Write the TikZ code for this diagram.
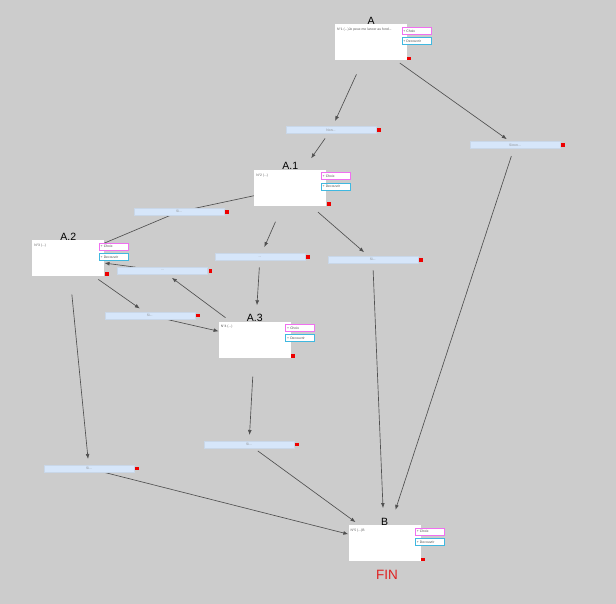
\documentclass[tikz,border=0pt]{standalone}
\usepackage{fontspec}
\setmainfont{Liberation Sans}
\usetikzlibrary{arrows.meta,backgrounds,calc}
\definecolor{bg}{HTML}{CCCCCC}
\definecolor{barfill}{HTML}{D6E6FA}
\definecolor{pinkb}{HTML}{F070F0}
\definecolor{cyanb}{HTML}{40B8E0}
\definecolor{edgec}{HTML}{505050}
\definecolor{redsq}{HTML}{EE0000}
\definecolor{finred}{HTML}{E02020}
\tikzset{
  card/.style={fill=white, minimum width=72pt, minimum height=36pt, inner sep=0pt},
  cardtitle/.style={anchor=base, inner sep=0pt, font=\fontsize{10.5}{12}\selectfont, text=black},
  cardtext/.style={anchor=west, inner sep=0pt, font=\fontsize{3.4}{4}\selectfont, text=black!65},
  btn/.style={draw, line width=0.7pt, fill=white, minimum width=29pt, minimum height=7pt,
    inner sep=0pt, inner xsep=1.5pt, text width=26pt, align=left, anchor=north west,
    font=\fontsize{3.4}{4}\selectfont, text=black!70},
  choixbtn/.style={btn, draw=pinkb},
  decbtn/.style={btn, draw=cyanb},
  bar/.style={fill=barfill, draw=barfill!85!gray, line width=0.3pt, minimum width=90pt,
    minimum height=6.7pt, inner sep=0pt, font=\fontsize{3.4}{4}\selectfont, text=black!45},
  redmark/.style={fill=redsq, minimum size=3.8pt, inner sep=0pt},
  conn/.style={draw=edgec, line width=0.65pt, -{Latex[length=5pt,width=3.8pt]}},
  hiddenconn/.style={draw=edgec, line width=0.65pt},
}
\newcommand\cardnode[4]{%
  \node[card] (#1) at (#2) {};
  \node[cardtitle] (#1t) at (#1.north) {#3};
  \node[cardtext] (#1x) at ($(#1.north west)+(2,5.7)$) {#4};
  \node[choixbtn] (#1c) at ($(#1.north east)+(-5.7,2.7)$) {+ Choix};
  \node[decbtn] (#1d) at ($(#1.north east)+(-5.7,13)$) {+ Decouvrir};
  \node[redmark, anchor=south west] (#1r) at (#1.south east) {};
}
\newcommand\barnode[3]{%
  \node[bar] (#1) at (#2) {#3};
  \node[redmark, anchor=west] (#1r) at ($(#1.east)+(1,0)$) {};
}
\begin{document}
\begin{tikzpicture}[x=1pt,y=-1pt]
\useasboundingbox (0,0) rectangle (616,604);
\cardnode{A}{371,42.5}{A}{N°1 (...)Je peux me lancer au fond...}
\cardnode{A1}{290.3,188}{A.1}{N°2 (...)}
\cardnode{A2}{68.3,258.3}{A.2}{N°3 (...)}
\cardnode{A3}{254.8,339.5}{A.3}{N°4 (...)}
\cardnode{B}{384.5,543.3}{B}{N°5 (...)B}
\node[text=finred, font=\fontsize{13.5}{15}\selectfont, inner sep=0pt] (fin) at (387,575) {FIN};
\barnode{L1}{331,130}{Non...}
\barnode{L2}{515,145}{Sinon...}
\barnode{L3}{179,211.7}{Si...}
\barnode{L4}{162.3,270.7}{...}
\barnode{L5}{260,257}{...}
\barnode{L6}{372.7,259.7}{Si...}
\barnode{L7}{149.7,315.5}{Si...}
\barnode{L8}{249,444.5}{Si...}
\barnode{L9}{89,468.5}{Si...}
\begin{pgfonlayer}{background}
\fill[bg] (0,0) rectangle (616,604);
\draw[conn, shorten <=15pt, shorten >=6pt] (A) -- (L1);
\draw[conn, shorten <=6pt, shorten >=14pt] (L1) -- (A1);
\draw[conn, shorten <=4pt, shorten >=4pt] (A) -- (L2);
\draw[conn, shorten <=8pt, shorten >=16pt] (L2) -- (B);
\draw[hiddenconn] (A1.center) -- (L3.center);
\draw[hiddenconn] (L3.center) -- (A2.center);
\draw[conn] (L4) -- (A2);
\draw[conn, shorten <=6pt, shorten >=6pt] (A3) -- (L4);
\draw[conn, shorten <=5pt, shorten >=6pt] (A2) -- (L7);
\draw[conn] (L7) -- (A3);
\draw[conn, shorten <=17pt, shorten >=7pt] (A1) -- (L5);
\draw[conn, shorten <=7pt, shorten >=16pt] (L5) -- (A3);
\draw[conn, shorten <=9pt, shorten >=6pt] (A1) -- (L6);
\draw[conn, shorten <=7pt, shorten >=17pt] (L6) -- (B);
\draw[conn, shorten <=19pt, shorten >=6pt] (A3) -- (L8);
\draw[conn, shorten <=5pt, shorten >=5pt] (L8) -- (B);
\draw[conn, shorten <=18pt, shorten >=6pt] (A2) -- (L9);
\draw[conn] (L9) -- (B);
\end{pgfonlayer}
\end{tikzpicture}
\end{document}
